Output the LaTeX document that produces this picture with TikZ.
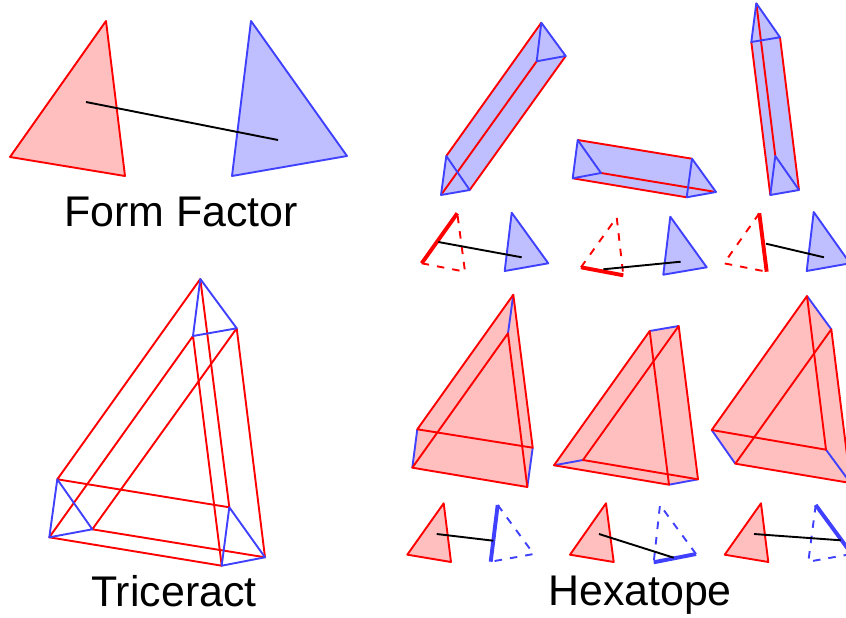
\documentclass[tikz,border=0pt]{standalone}
\usepackage{fontspec}
\setmainfont{Liberation Sans}
\definecolor{lred}{HTML}{FFBFBF}
\definecolor{lblue}{HTML}{BFBFFF}
\definecolor{mblue}{HTML}{4040FF}
\tikzset{
  redline/.style={draw=red,line width=1.9pt,line join=round},
  blueline/.style={draw=mblue,line width=1.9pt,line join=round},
  redfill/.style={fill=lred,draw=none},
  bluefill/.style={fill=lblue,draw=none},
  reddash/.style={draw=red,line width=1.9pt,dash pattern=on 7.5pt off 8pt},
  bluedash/.style={draw=mblue,line width=1.9pt,dash pattern=on 7.5pt off 8pt},
  redthick/.style={draw=red,line width=3.9pt},
  bluethick/.style={draw=mblue,line width=3.9pt},
  pairline/.style={draw=black,line width=1.9pt},
  title/.style={font=\fontsize{42.9pt}{46pt}\selectfont,anchor=base,inner sep=0pt}
}
\newcommand{\blueTris}[6]{%
  \draw[blueline] (#1)--(#2)--(#3)--cycle;
  \draw[blueline] (#4)--(#5)--(#6)--cycle;}
\begin{document}
\begin{tikzpicture}[x=1pt,y=-1pt]
\clip (0,0) rectangle (846,618);
\fill[white] (0,0) rectangle (846,618);

% ---------- Form Factor
\path[redfill] (106,21)--(10,157)--(125,176)--cycle;
\draw[redline] (106,21)--(10,157)--(125,176)--cycle;
\path[bluefill] (251,21)--(232,176)--(347,156)--cycle;
\draw[blueline] (251,21)--(232,176)--(347,156)--cycle;
\coordinate (ffa) at (86,102);
\coordinate (ffb) at (278,140);
\draw[pairline] (ffa)--(ffb);
\node[title] (formfactor) at (181,226) {Form Factor};

% ---------- Top prisms
\path[bluefill] (446.3,156)--(541.3,22.7)--(565.7,56)--(469.7,190)--(441,195)--cycle;
\draw[redline] (446.3,156)--(541.3,22.7) (441,195)--(536.7,61.3) (469.7,190)--(565.7,56);
\blueTris{541.3,22.7}{565.7,56}{536.7,61.3}{446.3,156}{469.7,190}{441,195}

\path[bluefill] (577.7,140)--(692,158.7)--(716,192)--(686.7,197.3)--(572.7,178.3)--cycle;
\draw[redline] (577.7,140)--(692,158.7) (601,173)--(716,192) (572.7,178.3)--(686.7,197.3);
\blueTris{577.7,140}{601,173}{572.7,178.3}{692,158.7}{716,192}{686.7,197.3}

\path[bluefill] (756.3,3.3)--(780,37.3)--(799,190)--(770.3,195)--(751.3,42)--cycle;
\draw[redline] (756.3,3.3)--(775.3,156) (780,37.3)--(799,190) (751.3,42)--(770.3,195);
\blueTris{756.3,3.3}{780,37.3}{751.3,42}{775.3,156}{799,190}{770.3,195}

% ---------- Small row under the prisms
\draw[reddash] (421.7,263.3)--(465,271.7)--(457.3,213.3);
\draw[redthick] (457.3,213.3)--(421.7,263.3);
\path[bluefill] (511.7,212.7)--(548.3,263.3)--(504.7,271)--cycle;
\draw[blueline] (511.7,212.7)--(548.3,263.3)--(504.7,271)--cycle;
\coordinate (p1a) at (438.3,242);
\coordinate (p1b) at (521.7,257.3);
\draw[pairline] (p1a)--(p1b);

\draw[reddash] (581,267.3)--(616.7,217.3)--(623.3,275.3);
\draw[redthick] (581,267.3)--(623.3,275.3);
\path[bluefill] (670.3,216.7)--(706.7,267.3)--(663.3,274.7)--cycle;
\draw[blueline] (670.3,216.7)--(706.7,267.3)--(663.3,274.7)--cycle;
\coordinate (p2a) at (603.3,269.3);
\coordinate (p2b) at (680.7,261.7);
\draw[pairline] (p2a)--(p2b);

\draw[reddash] (759.3,213.3)--(724,263.3)--(766.7,271.7);
\draw[redthick] (759.3,213.3)--(766.7,271.7);
\path[bluefill] (813.7,212)--(850,263.3)--(806.7,271)--cycle;
\draw[blueline] (813.7,212)--(850,263.3)--(806.7,271)--cycle;
\coordinate (p3a) at (766,243.7);
\coordinate (p3b) at (824,257.3);
\draw[pairline] (p3a)--(p3b);

% ---------- Triceract
\draw[redline] (200.3,279)--(57.3,479.3)--(229.3,507.3)--cycle;
\draw[redline] (236.7,328.3)--(92.3,529.3)--(265,557.3)--cycle;
\draw[redline] (193,336)--(49.3,537.3)--(221.7,565.7)--cycle;
\draw[blueline] (200.3,279)--(236.7,328.3)--(193,336)--cycle;
\draw[blueline] (57.3,479.3)--(92.3,529.3)--(49.3,537.3)--cycle;
\draw[blueline] (229.3,507.3)--(265,557.3)--(221.7,565.7)--cycle;
\node[title] (triceract) at (174,606) {Triceract};

% ---------- Hexatope prisms
\path[redfill] (513.3,294.7)--(532.7,447.7)--(527.3,487)--(412.3,467.7)--(417.3,429.3)--cycle;
\draw[blueline] (513.3,294.7)--(508,333.3) (417.3,429.3)--(412.3,467.7) (532.7,447.7)--(527.3,487);
\draw[redline] (513.3,294.7)--(417.3,429.3)--(532.7,447.7)--cycle;
\draw[redline] (508,333.3)--(412.3,467.7)--(527.3,487)--cycle;

\path[redfill] (649.7,331)--(678.7,326)--(698,479.3)--(669,484.7)--(554,465.3)--cycle;
\draw[blueline] (649.7,331)--(678.7,326) (554,465.3)--(583,460) (669,484.7)--(698,479.3);
\draw[redline] (649.7,331)--(554,465.3)--(669,484.7)--cycle;
\draw[redline] (678.7,326)--(583,460)--(698,479.3)--cycle;

\path[redfill] (807,296)--(831.3,329.3)--(850.5,483)--(735.3,463.7)--(711.7,430)--cycle;
\draw[blueline] (807,296)--(831.3,329.3) (711.7,430)--(735.3,463.7) (826,449.7)--(850.5,483);
\draw[redline] (807,296)--(711.7,430)--(826,449.7)--cycle;
\draw[redline] (831.3,329.3)--(735.3,463.7)--(850.5,483)--cycle;

% ---------- Small row under the hexatopes
\path[redfill] (443.7,503.3)--(407.3,554.7)--(451,562)--cycle;
\draw[redline] (443.7,503.3)--(407.3,554.7)--(451,562)--cycle;
\draw[bluedash] (497.7,505)--(533.7,554)--(490.7,561.7);
\draw[bluethick] (497.7,505)--(490.7,561.7);
\coordinate (h1a) at (436.7,534);
\coordinate (h1b) at (493.3,540.7);
\draw[pairline] (h1a)--(h1b);

\path[redfill] (606,503.3)--(570,554.7)--(613.7,562)--cycle;
\draw[redline] (606,503.3)--(570,554.7)--(613.7,562)--cycle;
\draw[bluedash] (696,554)--(660,505)--(653.7,562.3);
\draw[bluethick] (696,554)--(653.7,562.3);
\coordinate (h2a) at (599,534);
\coordinate (h2b) at (673.7,557.7);
\draw[pairline] (h2a)--(h2b);

\path[redfill] (761,503.3)--(724.7,554.7)--(768.3,562)--cycle;
\draw[redline] (761,503.3)--(724.7,554.7)--(768.3,562)--cycle;
\draw[bluedash] (815.7,505)--(808.3,561.7)--(851.7,554);
\draw[bluethick] (815.7,505)--(851.7,554);
\coordinate (h3a) at (754,534);
\coordinate (h3b) at (840.7,540.3);
\draw[pairline] (h3a)--(h3b);

\node[title] (hexatope) at (640,605) {Hexatope};
\end{tikzpicture}
\end{document}
